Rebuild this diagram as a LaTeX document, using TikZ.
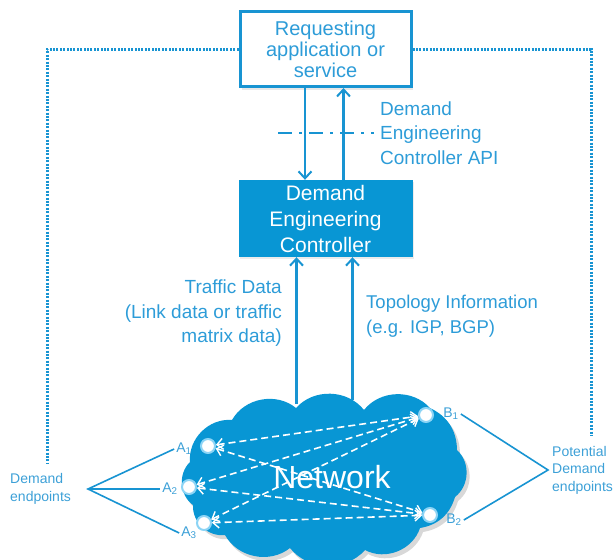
\documentclass[tikz,border=0pt]{standalone}
\usepackage{fontspec}
\setmainfont{Liberation Sans}
\usetikzlibrary{arrows.meta,shadows}
\definecolor{mainblue}{RGB}{8,150,212}
\definecolor{lineblue}{RGB}{24,148,210}
\definecolor{txtblue}{RGB}{45,156,216}
\definecolor{ringblue}{RGB}{140,212,245}
\definecolor{lbltxt}{RGB}{60,160,215}
\begin{document}
\begin{tikzpicture}[x=1pt,y=-1pt,
  topbox/.style={draw=lineblue, line width=3pt, fill=white, minimum width=171pt, minimum height=75pt,
    align=center, text=txtblue, font=\fontsize{20}{21}\selectfont, inner sep=0pt,
    drop shadow={opacity=0.18, shadow xshift=2pt, shadow yshift=-3pt}},
  ctlbox/.style={fill=mainblue, minimum width=174pt, minimum height=77pt, align=center, text=white,
    font=\fontsize{21}{26}\selectfont, inner sep=0pt,
    drop shadow={opacity=0.15, shadow xshift=1pt, shadow yshift=-2pt}},
  arr/.style={draw=lineblue, line width=2.5pt, -{Straight Barb[length=7pt,width=13pt,line width=2pt]}},
  dotline/.style={draw=lineblue, line width=3pt, dash pattern=on 2pt off 1.4pt},
  apiline/.style={draw=lineblue, line width=2.2pt, dash pattern=on 14pt off 7pt on 3pt off 7pt},
  lbl/.style={text=txtblue, font=\fontsize{19}{24.5}\selectfont, inner sep=0pt},
  ep/.style={circle, fill=white, draw=ringblue, line width=2pt, minimum size=14pt, inner sep=0pt},
  eplbl/.style={text=lbltxt, font=\fontsize{14}{16}\selectfont, inner sep=2pt},
  smalltxt/.style={text=lbltxt, font=\fontsize{14}{17.5}\selectfont, align=left, inner sep=0pt},
  conn/.style={draw=lineblue, line width=1.6pt},
  netarr/.style={draw=white, line width=1.6pt, dash pattern=on 7pt off 4pt,
    {Straight Barb[length=6pt,width=11pt,line width=1.4pt]}-{Straight Barb[length=6pt,width=11pt,line width=1.4pt]}},
  bmp/.style={bend left=50},
  bmpflat/.style={bend left=32}
]
\useasboundingbox (0,0) rectangle (614,560);

% cloud shadow
\begin{scope}[transparency group, opacity=0.22, shift={(3,4)}]
  \fill[black!70] (190,462) to[bmp] (232,420) to[bmp] (296,408) to[bmp] (364,410) to[bmp] (430,408)
    to[bmpflat] (457,450) to[bmp] (455,497) to[bmpflat] (420,528) to[bmp] (365,550) to[bmp] (290,548)
    to[bmp] (225,535) to[bmp] (193,505) to[bmp] cycle;
\end{scope}
% cloud
\fill[mainblue] (190,462) to[bmp] (232,420) to[bmp] (296,408) to[bmp] (364,410) to[bmp] (430,408)
    to[bmpflat] (457,450) to[bmp] (455,497) to[bmpflat] (420,528) to[bmp] (365,550) to[bmp] (290,548)
    to[bmp] (225,535) to[bmp] (193,505) to[bmp] cycle;

\coordinate (nt1) at (296.5,404);
\coordinate (nt2) at (352.5,400);
\coordinate (dl) at (47,463);
\coordinate (dr) at (591,435);
\coordinate (api1) at (278,133);
\coordinate (api2) at (374,133);
\coordinate (dj) at (88,489);
\coordinate (pj) at (548,470);

\node[topbox] (req) at (325.5,49) {Requesting\\application or\\service};
\node[ctlbox] (ctl) at (325.5,218.5) {Demand\\Engineering\\Controller};

% dotted frame
\draw[dotline] (req.west) -- (47,49) -- (dl);
\draw[dotline] (req.east) -- (591,49) -- (dr);

% API arrows
\draw[arr] ([xshift=-20.5pt]req.south) -- ([xshift=-20.5pt]ctl.north);
\draw[arr] ([xshift=18pt]ctl.north) -- ([xshift=18pt]req.south);
\draw[apiline] (api1) -- (api2);
\node[lbl, anchor=west, align=left] (apilbl) at (380,133) {Demand\\Engineering\\Controller API};

% data arrows
\draw[arr] (nt1) -- (nt1 |- ctl.south);
\draw[arr] (nt2) -- (nt2 |- ctl.south);
\node[lbl, anchor=east, align=right] (traffic) at (282,313.5) {Traffic Data\\(Link data or traffic\\matrix data)};
\node[lbl, anchor=west, align=left, font=\fontsize{18.5}{25}\selectfont] (topo) at (366,316) {Topology Information\\(e.g. IGP, BGP)};

% network label
\node[text=white, font=\fontsize{32}{32}\selectfont, inner sep=0pt] (net) at (332,477) {Network};

% endpoints
\node[ep] (A1) at (208,446) {};
\node[ep] (A2) at (189,487) {};
\node[ep] (A3) at (204,523) {};
\node[ep] (B1) at (426,415) {};
\node[ep] (B2) at (430,515) {};

\draw[netarr] (A1) -- (B1);
\draw[netarr] (A1) -- (B2);
\draw[netarr] (A2) -- (B1);
\draw[netarr] (A2) -- (B2);
\draw[netarr] (A3) -- (B1);
\draw[netarr] (A3) -- (B2);

\node[eplbl] (lA1) at (184,449) {A\textsubscript{1}};
\node[eplbl] (lA2) at (170,489) {A\textsubscript{2}};
\node[eplbl] (lA3) at (189,533) {A\textsubscript{3}};
\node[eplbl] (lB1) at (451,414) {B\textsubscript{1}};
\node[eplbl] (lB2) at (454,520) {B\textsubscript{2}};

% endpoint groups
\node[smalltxt, anchor=west] (dem) at (10,489) {Demand\\endpoints};
\node[smalltxt, anchor=west] (pot) at (552,470) {Potential\\Demand\\endpoints};
\draw[conn] (lA1.west) -- (dj) -- (lA3.west);
\draw[conn] (dj) -- (lA2.west);
\draw[conn] (lB1.east) -- (pj) -- (lB2.east);
\end{tikzpicture}
\end{document}
